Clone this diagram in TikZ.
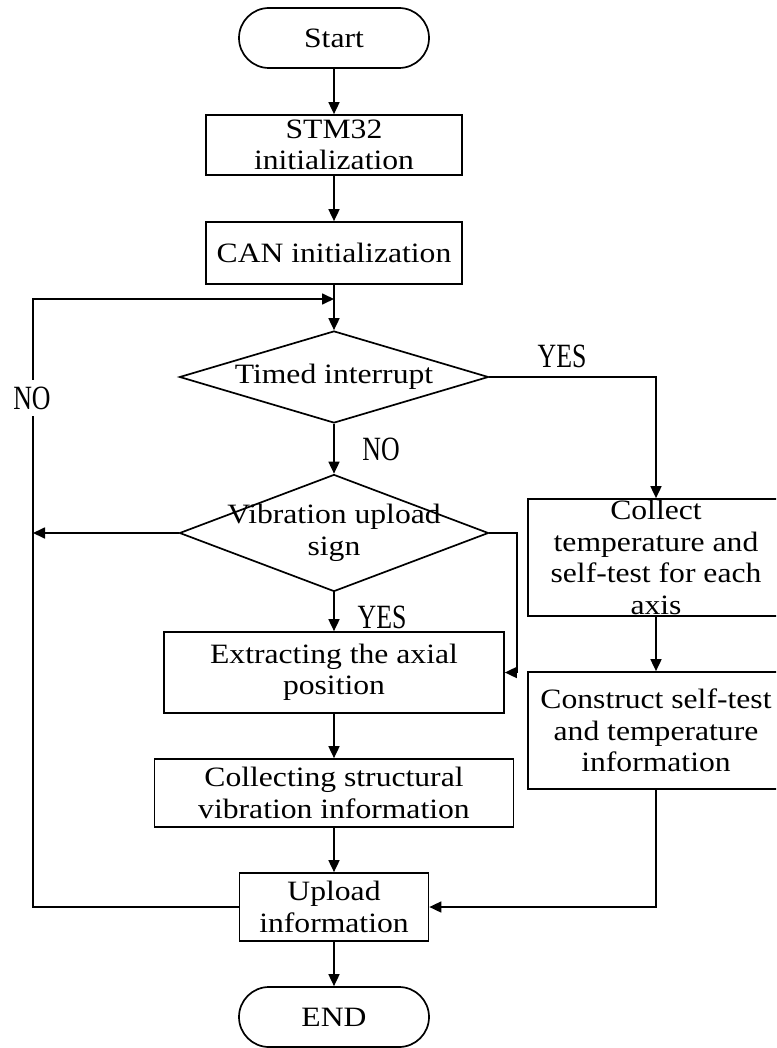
\documentclass[tikz,border=0pt]{standalone}
\usepackage{fontspec}
\setmainfont{Liberation Serif}[FakeStretch=1.13]
\newfontfamily\labfont{Liberation Serif}[FakeStretch=0.76]
\usetikzlibrary{arrows.meta,shapes.geometric}
\begin{document}
\begin{tikzpicture}[x=1pt,y=-1pt,
  every node/.style={font=\fontsize{28}{31.5}\selectfont},
  box/.style={draw, rectangle, inner sep=0pt, align=center, line width=1.7pt},
  term/.style={draw, rectangle, rounded corners=30pt, minimum width=190pt, minimum height=60pt, inner sep=0pt, line width=1.7pt},
  dia/.style={draw, diamond, inner sep=0pt, line width=1.7pt},
  lab/.style={font=\labfont\fontsize{34}{34}\selectfont, inner xsep=2pt, inner ysep=7pt},
  arr/.style={-{Triangle[length=12pt,width=11pt]}, line width=1.7pt}]
\useasboundingbox (0,0) rectangle (776,1048);
\clip (0,0) rectangle (776,1048);

% nodes
\node[term] (start) at (334,38) {Start};
\node[box, minimum width=256pt, minimum height=60pt] (stm) at (334,145) {STM32\\initialization};
\node[box, minimum width=256pt, minimum height=62pt] (can) at (334,253) {CAN initialization};
\node[dia, minimum width=309pt, minimum height=92pt, label={center:Timed interrupt}] (tim) at (334,377) {};
\node[dia, minimum width=309pt, minimum height=117pt, label={[align=center]center:Vibration upload\\sign}] (vib) at (334,533) {};
\node[box, minimum width=340pt, minimum height=81pt] (ext) at (334,672.5) {Extracting the axial\\position};
\node[box, minimum width=359pt, minimum height=68pt] (col) at (334,793) {Collecting structural\\vibration information};
\node[box, minimum width=189pt, minimum height=68pt] (upl) at (334,907) {Upload\\information};
\node[term] (fin) at (334,1017) {END};
\node[box, minimum width=256pt, minimum height=117pt] (cte) at (656,557.5) {Collect\\temperature and\\self-test for each\\axis};
\node[box, minimum width=256pt, minimum height=117pt] (cst) at (656,730.5) {Construct self-test\\and temperature\\information};

% helper coordinates
\coordinate (j) at (334,299);
\coordinate (lt) at (33,299);
\coordinate (lb) at (33,907);
\coordinate (vl) at (33,533);
\coordinate (vr) at (517,533);
\coordinate (vr2) at (517,672.5);

% connectors
\draw[arr] (start) -- (stm);
\draw[arr] (stm) -- (can);
\draw[arr] (can) -- (tim);
\draw[arr] (upl.west) -- (lb) -- (lt) -- (j);
\node[lab, fill=white] (no1) at (32,398) {NO};
\draw[arr] (tim.east) -| (cte.north);
\node[lab] (yes1) at (562,356) {YES};
\draw[arr] (tim) -- (vib);
\node[lab] (no2) at (381,449) {NO};
\draw[arr] (vib.west) -- (vl);
\draw[arr] (vib.east) -- (vr) -- (vr2) -- (ext.east);
\draw[arr] (vib) -- (ext);
\node[lab] (yes2) at (382,617) {YES};
\draw[arr] (ext) -- (col);
\draw[arr] (col) -- (upl);
\draw[arr] (upl) -- (fin);
\draw[arr] (cte) -- (cst);
\draw[arr] (cst.south) |- (upl.east);
\end{tikzpicture}
\end{document}
